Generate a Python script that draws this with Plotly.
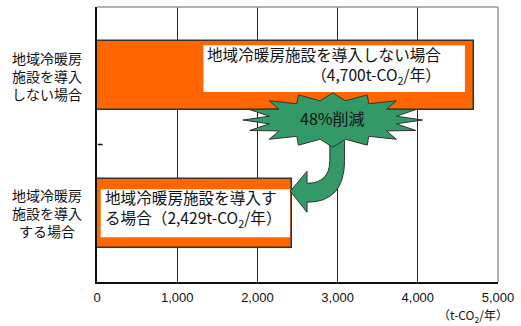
import math
import plotly.graph_objects as go

# Annual CO2 emissions, with and without a district heating & cooling plant
categories = ["地域冷暖房施設を導入しない場合", "地域冷暖房施設を導入する場合"]
label_lines = [
    ["地域冷暖房", "施設を導入", "しない場合"],
    ["地域冷暖房", "施設を導入", "する場合"],
]
emissions = [4700, 2429]  # t-CO2 / year
x_ticks = [0, 1000, 2000, 3000, 4000, 5000]
x_tick_labels = ["0", "1,000", "2,000", "3,000", "4,000", "5,000"]
reduction_text = "48%削減"

JP = "Noto Sans CJK JP, Noto Sans, sans-serif"
ORANGE = "#FF6600"
GREEN = "#339966"
INK = "#111111"

fig = go.Figure()
fig.add_trace(go.Bar(
    x=emissions, y=categories, orientation="h", width=0.5,
    marker=dict(color=ORANGE, line=dict(color="#333333", width=1.5)),
    hoverinfo="skip",
))

shapes = []
annotations = []

# White caption boxes inside the bars
v0, v1 = emissions
shapes.append(dict(type="rect", xref="x", yref="y", x0=1327, x1=v0 - 112,
                   y0=-0.222, y1=0.118, fillcolor="white", line=dict(width=0), layer="above"))
shapes.append(dict(type="rect", xref="x", yref="y", x0=46, x1=v1 - 22,
                   y0=0.825, y1=1.175, fillcolor="white", line=dict(width=0), layer="above"))

cap_font = dict(family=JP, size=15.6, color=INK)
annotations += [
    dict(x=4320, y=-0.072, xref="x", yref="y", xanchor="right", yanchor="middle",
         showarrow=False, align="right",
         text=f"地域冷暖房施設を導入しない場合<br>（{v0:,}t-CO<sub>2</sub>/年）", font=cap_font),
    dict(x=80, y=0.967, xref="x", yref="y", xanchor="left", yanchor="middle",
         showarrow=False, align="left",
         text=f"地域冷暖房施設を導入す<br>る場合（{v1:,}t-CO<sub>2</sub>/年）", font=cap_font),
]

# Curved arrow from the reduction badge to the lower bar
tip = v1 - 19
arrow_path = (
    f"M 2903,0.469 L 3087,0.469 L 3087,0.615 Q 3087,0.920 2619,0.920 "
    f"L 2619,0.993 L {tip},0.840 L 2619,0.695 L 2619,0.782 "
    f"Q 2903,0.782 2903,0.615 Z"
)
shapes.append(dict(type="path", xref="x", yref="y", path=arrow_path,
                   fillcolor=GREEN, line=dict(color="#333333", width=1), layer="above"))

# Starburst badge
cx, cy, rx, ry = 2940, 0.322, 1121, 0.198
n = 16
pts = []
for i in range(2 * n):
    a = math.pi * i / n
    r = 1.0 if i % 2 == 0 else 0.72
    pts.append((cx + rx * r * math.cos(a), cy + ry * r * math.sin(a)))
burst = "M " + " L ".join(f"{px:.1f},{py:.4f}" for px, py in pts) + " Z"
shapes.append(dict(type="path", xref="x", yref="y", path=burst,
                   fillcolor=GREEN, line=dict(color="#333333", width=1), layer="above"))
annotations.append(dict(x=cx, y=0.31, xref="x", yref="y", showarrow=False,
                        text=reduction_text, font=dict(family=JP, size=16, color=INK)))

# Category labels, centred
for ci, lines in enumerate(label_lines):
    annotations.append(dict(x=-0.124, y=ci, xref="paper", yref="y",
                            xanchor="center", yanchor="middle", showarrow=False,
                            align="center", text="<br>".join(lines),
                            font=dict(family=JP, size=14, color=INK)))

# Unit label under the axis
annotations.append(dict(x=1.03, y=-0.122, xref="paper", yref="paper", xanchor="right",
                        yanchor="middle", showarrow=False, text="（t-CO<sub>2</sub>/年）",
                        font=dict(family=JP, size=12, color=INK)))

# Grey frame on top and right
shapes.append(dict(type="line", xref="paper", yref="paper", x0=0, x1=1, y0=1, y1=1,
                   line=dict(color="#999999", width=1.5)))
shapes.append(dict(type="line", xref="paper", yref="paper", x0=1, x1=1, y0=0, y1=1,
                   line=dict(color="#999999", width=1.5)))
# Tick between the two categories, pointing into the plot
shapes.append(dict(type="line", xref="paper", yref="y", x0=0.002, x1=0.014, y0=0.5, y1=0.5,
                   line=dict(color=INK, width=1.5)))

fig.update_layout(
    width=521, height=326,
    margin=dict(l=97, r=18, t=7, b=44),
    paper_bgcolor="white", plot_bgcolor="white",
    showlegend=False, bargap=0,
    shapes=shapes, annotations=annotations,
    xaxis=dict(range=[0, 5000], tickvals=x_ticks, ticktext=x_tick_labels,
               showgrid=True, gridcolor="#222222", gridwidth=1.2, zeroline=False,
               showline=True, linecolor=INK, linewidth=1.5, ticks="",
               ticklabelstandoff=3,
               tickfont=dict(family="Liberation Sans, Arial, sans-serif", size=13, color=INK),
               fixedrange=True),
    yaxis=dict(type="category", categoryorder="array", categoryarray=categories,
               range=[1.5, -0.5], showticklabels=False,
               showgrid=False, zeroline=False,
               showline=True, linecolor=INK, linewidth=1.5,
               ticks="", fixedrange=True),
)

fig.write_html("out.html")
